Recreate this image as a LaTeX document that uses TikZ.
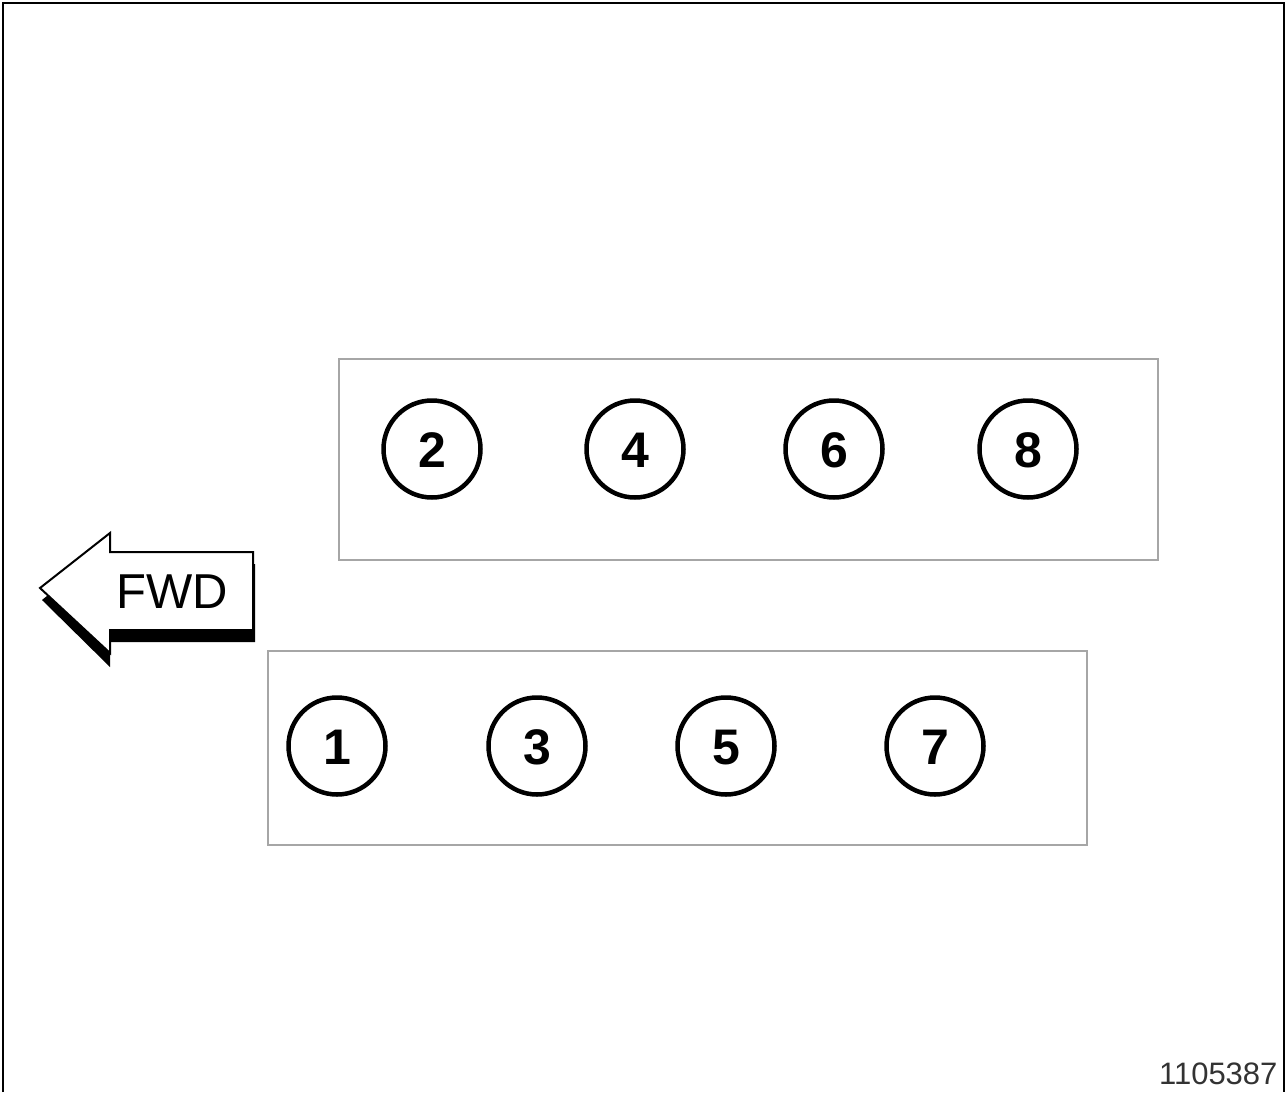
\documentclass[tikz,border=0pt]{standalone}
\usepackage{fontspec}
\setmainfont{Liberation Sans}
\begin{document}
\begin{tikzpicture}[x=1pt,y=-1pt,
  panel/.style={draw=black!35,line width=2.5pt},
  cyl/.style={circle,draw=black,line width=4.5pt,minimum size=97pt,inner sep=0pt,text height=36pt,text depth=0pt,font=\fontsize{50}{50}\selectfont\bfseries},
  lab/.style={font=\fontsize{31}{31}\selectfont,text=black!80}]
\useasboundingbox (0,0) rectangle (1287,1092);
\fill[white] (0,0) rectangle (1287,1092);
% frame
\draw[line width=2pt] (3,1092) -- (3,3) -- (1284,3) -- (1284,1092);
% panels
\draw[panel] (339,359) rectangle (1158,560);
\draw[panel] (268,651) rectangle (1087,845);
% cylinders
\node[cyl] (c2) at (432,449) {2};
\node[cyl] (c4) at (635,449) {4};
\node[cyl] (c6) at (834,449) {6};
\node[cyl] (c8) at (1028,449) {8};
\node[cyl] (c1) at (337,746) {1};
\node[cyl] (c3) at (537,746) {3};
\node[cyl] (c5) at (726,746) {5};
\node[cyl] (c7) at (935,746) {7};
% FWD arrow
\fill[black] (42,600) -- (110,545) -- (110,564) -- (255,564) -- (255,642) -- (110,642) -- (110,667) -- cycle;
\filldraw[fill=white,draw=black,line width=2pt,line join=miter] (40,588) -- (110,533) -- (110,552) -- (253,552) -- (253,630) -- (110,630) -- (110,653) -- cycle;
\node[font=\fontsize{49}{49}\selectfont] (fwd) at (172,592) {FWD};
% label
\node[lab,anchor=south east] (id) at (1281,1088) {1105387};
\end{tikzpicture}
\end{document}
